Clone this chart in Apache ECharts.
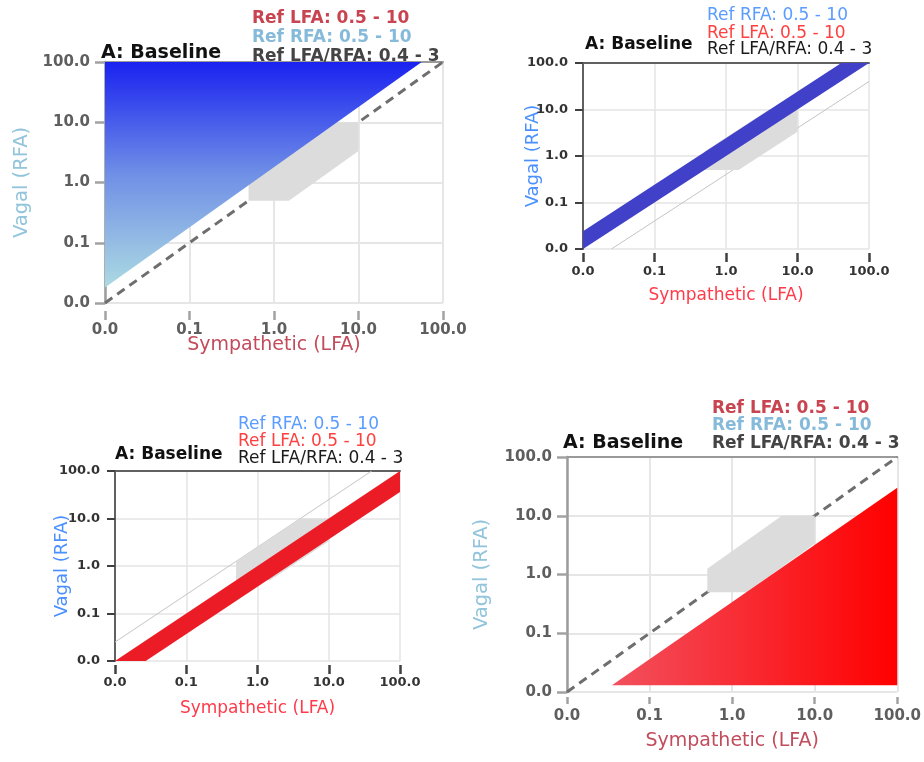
<!DOCTYPE html>
<html><head><meta charset="utf-8">
<script src="https://cdn.jsdelivr.net/npm/echarts@6/dist/echarts.min.js"></script>
<style>html,body{margin:0;padding:0;background:#fff}#c{width:924px;height:762px}</style>
</head><body><div id="c"></div>
<script>
// ---- data ----
const tickValues = [0.01, 0.1, 1, 10, 100];
const tickLabels = ['0.0', '0.1', '1.0', '10.0', '100.0'];
const titleText = 'A: Baseline';
const legendLFA = 'Ref LFA: 0.5 - 10';
const legendRFA = 'Ref RFA: 0.5 - 10';
const legendRatio = 'Ref LFA/RFA: 0.4 - 3';
const xName = 'Sympathetic (LFA)';
const yName = 'Vagal (RFA)';

const refZone = [[0.5, 0.5], [1.5, 0.5], [10, 3.33], [10, 10], [4, 10], [0.5, 1.25]];
const identityLine = [[0.01, 0.01], [100, 100]];
const blueTriangle = [[0.01, 0.018], [0.01, 100], [56, 100]];
const blueBand = [[0.01, 0.01], [100, 100], [41, 100], [0.01, 0.024]];
const redBand = [[0.01, 0.01], [100, 100], [100, 36], [0.027, 0.01]];
const redTriangle = [[0.035, 0.013], [100, 0.013], [100, 30]];
const lowerRatioLine = [[0.025, 0.01], [100, 40]];
const upperRatioLine = [[0.01, 0.025], [40, 100]];

// ---- layout / styles ----
const FONT = '"DejaVu Sans", sans-serif';
const panels = [
  { grid: { left: 105, top: 62, width: 338, height: 241 }, soft: true, xOffset: 8, xTick: 9, xMargin: 12, xGap: 25, yGap: 73,
    title: [101, 53.5], legend: [252, [19, 37.5, 57]], order: ['LFA', 'RFA', 'RATIO'] },
  { grid: { left: 583, top: 63, width: 286, height: 186 }, soft: false, xOffset: 4, xTick: 9, xMargin: 12, xGap: 34, yGap: 41,
    title: [585, 44.5], legend: [707, [16, 34, 49.5]], order: ['RFA', 'LFA', 'RATIO'] },
  { grid: { left: 115, top: 471, width: 285, height: 190 }, soft: false, xOffset: 4, xTick: 9, xMargin: 11, xGap: 35, yGap: 44,
    title: [115, 454.5], legend: [238, [424.5, 442, 459]], order: ['RFA', 'LFA', 'RATIO'] },
  { grid: { left: 567, top: 457, width: 335, height: 235 }, soft: true, xOffset: 5, xTick: 7, xMargin: 12, xGap: 35, yGap: 75,
    title: [563, 443.5], legend: [712, [409, 425.5, 444]], order: ['LFA', 'RFA', 'RATIO'] }
];

function fmt(v) {
  const i = tickValues.findIndex(t => Math.abs(Math.log10(t) - Math.log10(v)) < 1e-6);
  return i >= 0 ? tickLabels[i] : '';
}

const grids = [], xAxes = [], yAxes = [], graphics = [], series = [];

panels.forEach((p, i) => {
  grids.push(p.grid);
  const s = p.soft;
  const tickColor = s ? '#a2a2a2' : '#404040';
  const splitColor = s ? '#e6e6e6' : '#e4e4e4';
  const labelStyle = s
    ? { fontSize: 15, fontWeight: 'bold', color: '#5e5e5e', fontFamily: FONT }
    : { fontSize: 13, fontWeight: 'bold', color: '#333333', fontFamily: FONT };
  xAxes.push({
    type: 'log', logBase: 10, min: 0.01, max: 100, gridIndex: i, position: 'bottom', offset: p.xOffset,
    axisLine: { show: false },
    axisTick: { show: true, length: p.xTick, lineStyle: { color: tickColor, width: 2.5 } },
    axisLabel: Object.assign({ margin: p.xMargin, formatter: fmt, showMinLabel: true, showMaxLabel: true }, labelStyle),
    splitLine: { show: true, lineStyle: { color: splitColor, width: s ? 2 : 1.5 } },
    minorTick: { show: false },
    name: xName, nameLocation: 'middle', nameGap: p.xGap, nameMoveOverlap: false,
    nameTextStyle: { fontFamily: FONT, fontSize: s ? 19 : 17, color: s ? '#c24c5c' : '#ff3a4a' }
  });
  xAxes.push({
    type: 'log', logBase: 10, min: 0.01, max: 100, gridIndex: i, position: 'top',
    axisLine: { show: true, lineStyle: { color: s ? '#9a9a9a' : '#606060', width: 2 } },
    axisTick: { show: false }, axisLabel: { show: false }, splitLine: { show: false }
  });
  yAxes.push({
    type: 'log', logBase: 10, min: 0.01, max: 100, gridIndex: i,
    axisLine: { show: true, lineStyle: { color: s ? '#9c9c9c' : '#606060', width: s ? 2.5 : 2 } },
    axisTick: { show: true, length: s ? 10 : 8, lineStyle: { color: tickColor, width: s ? 2.5 : 2 } },
    axisLabel: Object.assign({ margin: 15, formatter: fmt, showMinLabel: true, showMaxLabel: true }, labelStyle),
    splitLine: { show: true, lineStyle: { color: splitColor, width: s ? 2 : 1.5 } },
    minorTick: { show: false },
    name: yName, nameLocation: 'middle', nameGap: p.yGap, nameMoveOverlap: false,
    nameTextStyle: { fontFamily: FONT, fontSize: s ? 19.5 : 18, color: s ? '#92c4dc' : '#4a90ff' }
  });

  // texts
  graphics.push({ type: 'text', x: p.title[0], y: p.title[1], silent: true, z: 100,
    style: { text: titleText, fill: '#111', font: 'bold ' + (s ? 19 : 17) + 'px ' + FONT, align: 'left', verticalAlign: 'middle' } });
  const txt = { LFA: legendLFA, RFA: legendRFA, RATIO: legendRatio };
  const col = s ? { LFA: '#c84450', RFA: '#86bada', RATIO: '#444444' } : { LFA: '#ff4040', RFA: '#5a9cff', RATIO: '#1a1a1a' };
  p.order.forEach((k, j) => {
    graphics.push({ type: 'text', x: p.legend[0], y: p.legend[1][j], silent: true, z: 100,
      style: { text: txt[k], fill: col[k], font: (s ? 'bold 17px ' : '17px ') + FONT, align: 'left', verticalAlign: 'middle' } });
  });
});

function lineSeries(data, gi, style) {
  return { type: 'line', z: 2, data, xAxisIndex: 2 * gi, yAxisIndex: gi, symbol: 'none', silent: true, animation: false, lineStyle: style };
}
function polySeries(pts, gi, fill, z) {
  return {
    type: 'custom', z, coordinateSystem: 'cartesian2d', xAxisIndex: 2 * gi, yAxisIndex: gi, data: pts, silent: true, animation: false,
    renderItem: (params, api) => params.dataIndex === 0
      ? { type: 'polygon', shape: { points: pts.map(pt => api.coord(pt)) }, style: { fill } }
      : null
  };
}

const dashed = { color: '#6e6e6e', width: 3, type: [9, 6] };
const thin = { color: '#c4c4c4', width: 1 };
const gray = '#dcdcdc';
const blueGrad = new echarts.graphic.LinearGradient(0, 0, 0, 1, [
  { offset: 0, color: '#1a22f0' }, { offset: 0.5, color: '#7090e6' }, { offset: 1, color: '#acdae2' }]);
const redGrad = new echarts.graphic.LinearGradient(0, 0, 1, 0, [
  { offset: 0, color: '#f2505e' }, { offset: 1, color: '#ff0000' }]);

// panel 1
series.push(lineSeries(identityLine, 0, dashed), polySeries(refZone, 0, gray, 3), polySeries(blueTriangle, 0, blueGrad, 4));
// panel 2
series.push(lineSeries(lowerRatioLine, 1, thin), polySeries(refZone, 1, gray, 3), polySeries(blueBand, 1, '#4040c8', 4));
// panel 3
series.push(lineSeries(upperRatioLine, 2, thin), polySeries(refZone, 2, gray, 3), polySeries(redBand, 2, '#ec1c26', 4));
// panel 4
series.push(lineSeries(identityLine, 3, dashed), polySeries(refZone, 3, gray, 3), polySeries(redTriangle, 3, redGrad, 4));

const chart = echarts.init(document.getElementById('c'), null, { renderer: 'canvas' });
chart.setOption({
  animation: false,
  backgroundColor: '#fff',
  grid: grids, xAxis: xAxes, yAxis: yAxes, series, graphic: graphics
});
</script></body></html>
